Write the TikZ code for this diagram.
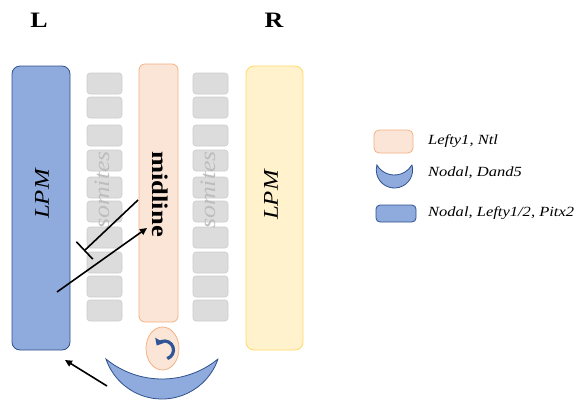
\documentclass[tikz,border=0pt]{standalone}
\usepackage{fontspec}
\setmainfont[FakeStretch=1.18]{Liberation Serif}
\usetikzlibrary{arrows.meta,shapes.geometric}
\definecolor{lpmblue}{HTML}{8FAADC}
\definecolor{lpmblueline}{HTML}{2F528F}
\definecolor{midfill}{HTML}{FBE5D6}
\definecolor{midline}{HTML}{F4B183}
\definecolor{rfill}{HTML}{FFF2CC}
\definecolor{rline}{HTML}{FFD966}
\definecolor{somfill}{HTML}{DCDCDC}
\definecolor{somline}{HTML}{CCCCCC}
\definecolor{somtext}{HTML}{BDBDBD}
\definecolor{flowblue}{HTML}{2F5597}
\tikzset{
  bluebar/.style={draw=lpmblueline, fill=lpmblue, rounded corners=8pt, line width=0.8pt},
  peachbar/.style={draw=midline, fill=midfill, rounded corners=6pt, line width=0.8pt},
  yellowbar/.style={draw=rline, fill=rfill, rounded corners=8pt, line width=0.8pt},
  somite/.style={draw=somline, fill=somfill, rounded corners=3pt, line width=0.6pt},
  crescent/.style={draw=lpmblueline, fill=lpmblue, line width=0.8pt},
  sig/.style={line width=1.6pt, -{Triangle[length=7pt,width=6.5pt]}},
  block/.style={line width=1.6pt, -{Bar[width=24pt,line width=1.6pt]}},
  legtext/.style={anchor=west, font=\itshape\fontsize{14}{16}\selectfont, inner sep=0pt},
  bigital/.style={rotate=90, font=\itshape\fontsize{21}{23}\selectfont},
}
\begin{document}
\begin{tikzpicture}[x=1pt, y=-1pt]
\useasboundingbox (0,0) rectangle (579,402);

% side labels
\node[font=\bfseries\fontsize{22}{24}\selectfont] (Lside) at (39,20) {L};
\node[font=\bfseries\fontsize{22}{24}\selectfont] (Rside) at (274,20) {R};

% lateral plate mesoderm, left and right
\draw[bluebar] (12,66) rectangle (70,350);
\node[bigital] (lpmL) at (42,194) {LPM};
\draw[yellowbar] (246,66) rectangle (303,350);
\node[bigital] (lpmR) at (271,195) {LPM};

% somite columns
\foreach \y in {73,97,125,150,177,201,227,252,276,300}{
  \draw[somite] (87,\y) rectangle (122,\y+21);
  \draw[somite] (193,\y) rectangle (228,\y+21);
}
\node[bigital, text=somtext, font=\itshape\fontsize{22}{24}\selectfont] (somL) at (102,190) {somites};
\node[bigital, text=somtext, font=\itshape\fontsize{22}{24}\selectfont] (somR) at (208,190) {somites};

% midline
\draw[peachbar] (139,64) rectangle (178,322);
\node[rotate=-90, font=\bfseries\fontsize{22.5}{24}\selectfont] (mid) at (160,194) {midline};

% node with ciliary flow
\node[ellipse, draw=midline, fill=midfill, line width=0.8pt, minimum width=33pt, minimum height=43pt, inner sep=0pt] (node) at (162.5,348.5) {};
\coordinate (swirl) at (164.5,350);
\draw[flowblue, line width=3.2pt, -{Triangle[length=6pt,width=10pt]}]
  ([shift={(72:9)}]swirl) arc[start angle=72, end angle=-150, radius=9];

% crescent of Nodal/Dand5 around the node
\draw[crescent] (218,359) arc[start angle=18.9, end angle=161.1, radius=59.2]
  arc[start angle=129.3, end angle=50.7, radius=88.4] -- cycle;

% signalling arrows
\coordinate (nodeOut) at (107,386);
\coordinate (lpmIn) at (65,360);
\draw[sig] (nodeOut) -- (lpmIn);
\coordinate (lpmOut) at (57,292);
\coordinate (midIn) at (147,228);
\draw[sig] (lpmOut) -- (midIn);
\coordinate (midOut) at (138,200);
\coordinate (blockEnd) at (84,251);
\draw[block] (midOut) -- (blockEnd);

% legend
\draw[peachbar, rounded corners=5pt] (374,130) rectangle (413,153);
\node[legtext] (leg1) at (428,141) {Lefty1, Ntl};
\draw[crescent] (412,165) arc[start angle=-15.3, end angle=195.3, radius=18.2]
  arc[start angle=149.5, end angle=30.5, radius=20.3] -- cycle;
\node[legtext] (leg2) at (428,173) {Nodal, Dand5};
\draw[bluebar, rounded corners=4pt] (376,205) rectangle (416,222);
\node[legtext] (leg3) at (428,213) {Nodal, Lefty1/2, Pitx2};
\end{tikzpicture}
\end{document}
